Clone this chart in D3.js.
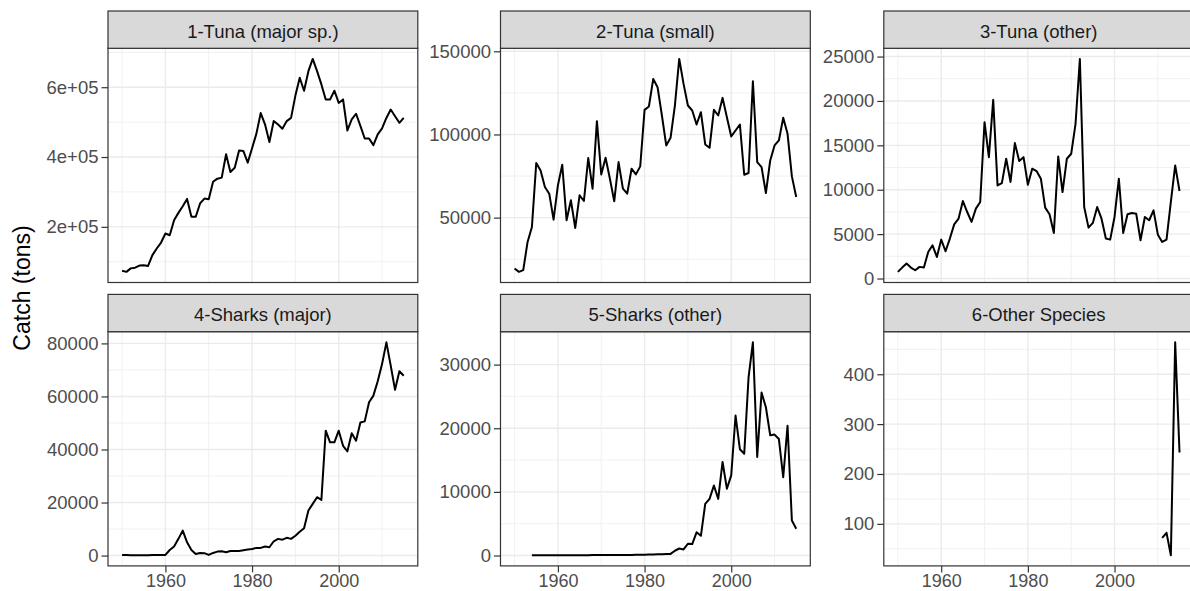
<!DOCTYPE html>
<html>
<head>
<meta charset="utf-8">
<script src="https://cdn.jsdelivr.net/npm/d3@7"></script>
<style>
  body { margin: 0; background: #fff; }
  svg { display: block; font-family: "Liberation Sans", Arial, sans-serif; }
</style>
</head>
<body>
<svg id="chart" width="1190" height="591"></svg>
<script>
// catch by species group, tons per year
const panelTitles = ['1-Tuna (major sp.)', '2-Tuna (small)', '3-Tuna (other)',
                     '4-Sharks (major)', '5-Sharks (other)', '6-Other Species'];
const startYears = [1950, 1950, 1950, 1950, 1954, 2011];

const tunaMajor = [74000, 71000, 81000, 83000, 89000, 90000, 88000, 119000, 138000, 155000,
  181000, 176000, 219000, 240000, 259000, 280000, 229000, 229000, 267000, 281000,
  279000, 329000, 338000, 341000, 408000, 357000, 369000, 419000, 417000, 384000,
  425000, 467000, 526000, 493000, 443000, 503000, 493000, 481000, 503000, 512000,
  576000, 627000, 590000, 646000, 681000, 646000, 608000, 565000, 565000, 590000,
  555000, 565000, 476000, 508000, 524000, 489000, 453000, 453000, 434000, 465000,
  482000, 512000, 536000, 517000, 498000, 512000];

const tunaSmall = [19400, 17400, 18400, 35400, 44400, 82800, 78400, 68400, 64400, 48800,
  69400, 81800, 48400, 60400, 43800, 63400, 60000, 85800, 67400, 108000,
  76000, 86000, 73400, 59800, 83400, 67400, 64400, 79400, 76000, 80800,
  114800, 116800, 133400, 128400, 111400, 93400, 98000, 117400, 145400, 130400,
  117400, 114400, 106000, 113400, 94000, 92000, 114800, 111400, 122000, 110400,
  98800, 102400, 106000, 75800, 76800, 132000, 83400, 80400, 64800, 84400,
  93400, 96400, 110000, 100400, 74800, 62400];

const tunaOther = [750, 1230, 1680, 1230, 930, 1310, 1230, 2990, 3740, 2430,
  4380, 3070, 4500, 6100, 6740, 8730, 7490, 6370, 7870, 8620,
  17610, 13670, 20120, 10490, 10750, 13490, 10870, 15250, 13230, 13670,
  10560, 12370, 12100, 11240, 7980, 7230, 5130, 13750, 9740, 13490,
  14050, 17420, 24730, 8050, 5730, 6260, 8050, 6740, 4500, 4380,
  6930, 11240, 5130, 7230, 7380, 7300, 4310, 6930, 6560, 7680,
  4940, 4120, 4380, 8620, 12740, 9860];

const sharksMajor = [200, 180, 160, 150, 120, 130, 150, 170, 190, 200,
  250, 2100, 3400, 6300, 9400, 5000, 2100, 600, 1000, 900,
  250, 1000, 1500, 1600, 1250, 1750, 1750, 1750, 2000, 2250,
  2500, 2900, 2900, 3400, 3150, 5400, 6300, 6000, 6700, 6300,
  7500, 9000, 10300, 17000, 19500, 22000, 21000, 47100, 42700, 42700,
  47100, 41400, 39300, 46100, 43300, 50200, 50600, 57800, 60300, 65700,
  72200, 80400, 71600, 62500, 69500, 67800];

const sharksOther = [40, 45, 50, 45, 50, 55,
  50, 55, 60, 55, 50, 45, 55, 60, 65, 70,
  70, 75, 75, 80, 80, 85, 90, 95, 100, 110,
  120, 140, 160, 180, 200, 220, 250, 750, 1100, 950,
  1850, 1800, 3650, 3100, 8100, 8900, 11000, 8900, 14700, 10500,
  12600, 22000, 16700, 16000, 28000, 33500, 15500, 25600, 23300, 18900,
  19000, 18300, 12300, 20400, 5500, 4200];

const otherSpecies = [72, 82, 37, 464, 243];

const seriesList = [tunaMajor, tunaSmall, tunaOther, sharksMajor, sharksOther, otherSpecies];

const xBreaks = [1960, 1980, 2000];
const xMinorBreaks = [1950, 1970, 1990, 2010];
const yBreaks = [
  [200000, 400000, 600000],
  [50000, 100000, 150000],
  [0, 5000, 10000, 15000, 20000, 25000],
  [0, 20000, 40000, 60000, 80000],
  [0, 10000, 20000, 30000],
  [100, 200, 300, 400]
];
const yTickLabels = [
  ['2e+05', '4e+05', '6e+05'],
  ['50000', '100000', '150000'],
  ['0', '5000', '10000', '15000', '20000', '25000'],
  ['0', '20000', '40000', '60000', '80000'],
  ['0', '10000', '20000', '30000'],
  ['100', '200', '300', '400']
];

// layout
const colLefts = [108, 500.5, 883.8];
const rowTops = [48.3, 331.7];
const panelW = 309.8;
const panelH = 234.2;
const stripH = 37.3;

const svg = d3.select('#chart');

// shared x scale (1950-2015 with 5% padding)
const xMin = 1950, xMax = 2015;
const xPad = (xMax - xMin) * 0.05;
const xScale = d3.scaleLinear()
    .domain([xMin - xPad, xMax + xPad])
    .range([0, panelW]);

seriesList.forEach((values, i) => {
    const col = i % 3;
    const row = Math.floor(i / 3);
    const data = values.map((v, k) => ({ year: startYears[i] + k, value: v }));

    const ext = d3.extent(values);
    const pad = (ext[1] - ext[0]) * 0.05;
    const yScale = d3.scaleLinear()
        .domain([ext[0] - pad, ext[1] + pad])
        .range([panelH, 0]);

    // minor breaks halfway between majors
    const br = yBreaks[i];
    const step = br[1] - br[0];
    const yMinor = [];
    for (let k = -1; k < br.length; k++) {
        const m = br[0] + step * (k + 0.5);
        if (m >= yScale.domain()[0] && m <= yScale.domain()[1]) yMinor.push(m);
    }

    const g = svg.append('g')
        .attr('transform', `translate(${colLefts[col]},${rowTops[row]})`);

    g.append('rect')
        .attr('width', panelW)
        .attr('height', panelH)
        .attr('fill', '#fff');

    // minor grid
    g.selectAll('.xminor').data(xMinorBreaks).enter().append('line')
        .attr('x1', d => xScale(d)).attr('x2', d => xScale(d))
        .attr('y1', 0).attr('y2', panelH)
        .attr('stroke', '#EBEBEB').attr('stroke-width', 0.7);
    g.selectAll('.yminor').data(yMinor).enter().append('line')
        .attr('x1', 0).attr('x2', panelW)
        .attr('y1', d => yScale(d)).attr('y2', d => yScale(d))
        .attr('stroke', '#EBEBEB').attr('stroke-width', 0.7);

    // major grid
    g.selectAll('.xmajor').data(xBreaks).enter().append('line')
        .attr('x1', d => xScale(d)).attr('x2', d => xScale(d))
        .attr('y1', 0).attr('y2', panelH)
        .attr('stroke', '#EBEBEB').attr('stroke-width', 1.4);
    g.selectAll('.ymajor').data(br).enter().append('line')
        .attr('x1', 0).attr('x2', panelW)
        .attr('y1', d => yScale(d)).attr('y2', d => yScale(d))
        .attr('stroke', '#EBEBEB').attr('stroke-width', 1.4);

    // the catch line
    const line = d3.line()
        .x(d => xScale(d.year))
        .y(d => yScale(d.value));
    g.append('path')
        .datum(data)
        .attr('d', line)
        .attr('fill', 'none')
        .attr('stroke', '#000')
        .attr('stroke-width', 2)
        .attr('stroke-linejoin', 'round');

    // panel border
    g.append('rect')
        .attr('width', panelW)
        .attr('height', panelH)
        .attr('fill', 'none')
        .attr('stroke', '#333333')
        .attr('stroke-width', 1.2);

    // strip
    g.append('rect')
        .attr('y', -stripH)
        .attr('width', panelW)
        .attr('height', stripH)
        .attr('fill', '#D9D9D9')
        .attr('stroke', '#333333')
        .attr('stroke-width', 1.2);
    g.append('text')
        .attr('x', panelW / 2)
        .attr('y', -stripH + 27)
        .attr('text-anchor', 'middle')
        .attr('font-size', '18.5px')
        .attr('fill', '#1A1A1A')
        .text(panelTitles[i]);

    // y axis
    const yAxis = d3.axisLeft(yScale)
        .tickValues(br)
        .tickFormat((d, k) => yTickLabels[i][k])
        .tickSize(6.5)
        .tickPadding(3);
    const ya = g.append('g').call(yAxis);
    ya.select('.domain').remove();
    ya.selectAll('line').attr('stroke', '#333333').attr('stroke-width', 1.2);
    ya.selectAll('text').attr('font-size', '18.5px').attr('fill', '#4D4D4D')
        .attr('font-family', '"Liberation Sans", Arial, sans-serif');

    // x axis on bottom row only
    if (row === 1) {
        const xAxis = d3.axisBottom(xScale)
            .tickValues(xBreaks)
            .tickFormat(d3.format('d'))
            .tickSize(6.5)
            .tickPadding(1.5);
        const xa = g.append('g')
            .attr('transform', `translate(0,${panelH})`)
            .call(xAxis);
        xa.select('.domain').remove();
        xa.selectAll('line').attr('stroke', '#333333').attr('stroke-width', 1.2);
        xa.selectAll('text').attr('font-size', '18px').attr('fill', '#4D4D4D')
            .attr('font-family', '"Liberation Sans", Arial, sans-serif');
    }
});

// y axis title
svg.append('text')
    .attr('transform', 'translate(29.5,288) rotate(-90)')
    .attr('text-anchor', 'middle')
    .attr('font-size', '23px')
    .attr('fill', '#000')
    .text('Catch (tons)');
</script>
</body>
</html>
